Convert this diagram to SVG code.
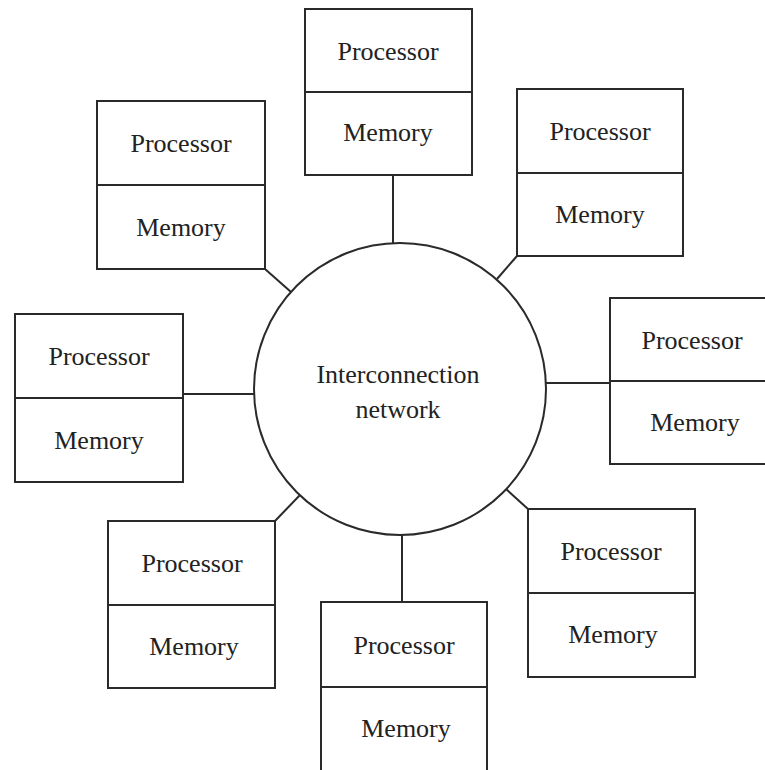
<svg xmlns="http://www.w3.org/2000/svg" width="765" height="770" viewBox="0 0 765 770">
<style>
.box{fill:#fff;stroke:#2a2a2a;stroke-width:2}
.ln{stroke:#2a2a2a;stroke-width:2;fill:none}
.t{font-family:"Liberation Serif","Times New Roman",serif;font-size:26px;fill:#222;text-anchor:middle}
</style>
<rect width="765" height="770" fill="#fff"/>
<g id="connectors">
<line class="ln" x1="393" y1="175" x2="393" y2="244"/>
<line class="ln" x1="265" y1="269" x2="291" y2="292"/>
<line class="ln" x1="517" y1="256" x2="497" y2="279"/>
<line class="ln" x1="183" y1="394" x2="254" y2="394"/>
<line class="ln" x1="546" y1="383" x2="610" y2="383"/>
<line class="ln" x1="275" y1="521" x2="300" y2="495"/>
<line class="ln" x1="402" y1="535" x2="402" y2="602"/>
<line class="ln" x1="528" y1="509" x2="506" y2="489"/>
</g>
<g id="network">
<circle class="box" cx="400" cy="389" r="146"/>
<text class="t" x="398" y="383">Interconnection</text>
<text class="t" x="398" y="418">network</text>
</g>
<g id="pm-top">
<rect class="box" x="305" y="9" width="167" height="166"/>
<line class="ln" x1="305" y1="92" x2="472" y2="92"/>
<text class="t" x="388" y="60">Processor</text>
<text class="t" x="388" y="141">Memory</text>
</g>
<g id="pm-topleft">
<rect class="box" x="97" y="101" width="168" height="168"/>
<line class="ln" x1="97" y1="185" x2="265" y2="185"/>
<text class="t" x="181" y="152">Processor</text>
<text class="t" x="181" y="236">Memory</text>
</g>
<g id="pm-topright">
<rect class="box" x="517" y="89" width="166" height="167"/>
<line class="ln" x1="517" y1="173" x2="683" y2="173"/>
<text class="t" x="600" y="140">Processor</text>
<text class="t" x="600" y="223">Memory</text>
</g>
<g id="pm-left">
<rect class="box" x="15" y="314" width="168" height="168"/>
<line class="ln" x1="15" y1="398" x2="183" y2="398"/>
<text class="t" x="99" y="365">Processor</text>
<text class="t" x="99" y="449">Memory</text>
</g>
<g id="pm-right">
<rect class="box" x="610" y="298" width="170" height="166"/>
<line class="ln" x1="610" y1="381" x2="765" y2="381"/>
<text class="t" x="692" y="349">Processor</text>
<text class="t" x="695" y="431">Memory</text>
</g>
<g id="pm-bottomleft">
<rect class="box" x="108" y="521" width="167" height="167"/>
<line class="ln" x1="108" y1="605" x2="275" y2="605"/>
<text class="t" x="192" y="572">Processor</text>
<text class="t" x="194" y="655">Memory</text>
</g>
<g id="pm-bottom">
<rect class="box" x="321" y="602" width="166" height="172"/>
<line class="ln" x1="321" y1="687" x2="487" y2="687"/>
<text class="t" x="404" y="654">Processor</text>
<text class="t" x="406" y="737">Memory</text>
</g>
<g id="pm-bottomright">
<rect class="box" x="528" y="509" width="167" height="168"/>
<line class="ln" x1="528" y1="593" x2="695" y2="593"/>
<text class="t" x="611" y="560">Processor</text>
<text class="t" x="613" y="643">Memory</text>
</g>
</svg>
